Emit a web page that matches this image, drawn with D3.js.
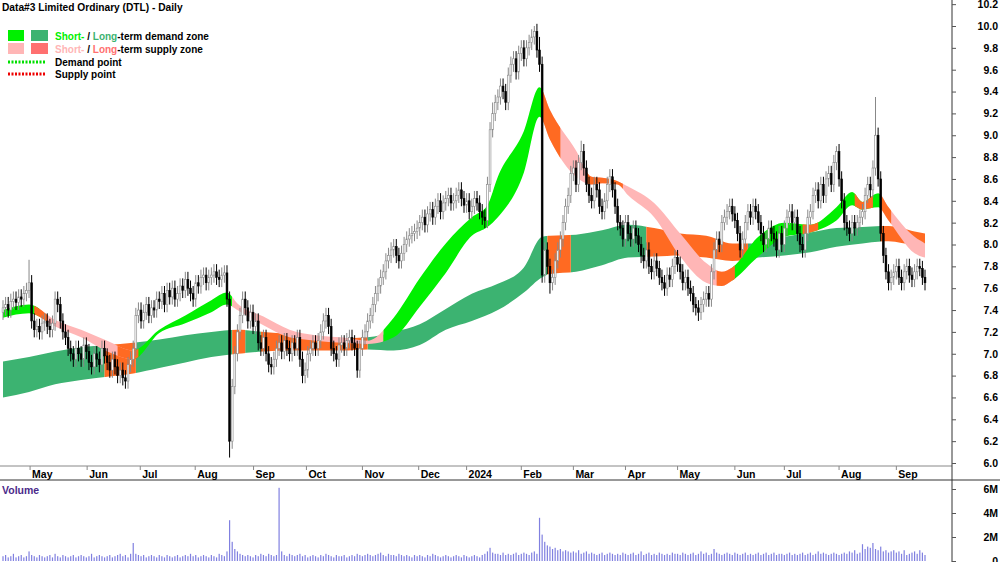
<!DOCTYPE html>
<html><head><meta charset="utf-8">
<script src="https://cdn.jsdelivr.net/npm/d3@7"></script>
<style>body{margin:0;background:#fff}svg{display:block;font-family:"Liberation Sans",Arial,sans-serif}</style>
</head><body><svg id="c" width="1000" height="562"></svg>
<script>
const closes = [
7.42,7.45,7.40,7.48,7.50,7.47,7.52,7.50,7.55,7.58,
7.65,7.30,7.22,7.25,7.20,7.28,7.30,7.25,7.22,7.28,
7.50,7.45,7.30,7.20,7.15,7.05,7.00,6.95,7.05,7.00,
6.95,7.08,7.02,6.92,6.88,7.00,6.95,6.90,7.05,6.98,
6.92,6.85,6.95,6.88,6.80,6.85,6.78,6.75,6.90,6.95,
7.05,7.35,7.40,7.30,7.38,7.45,7.35,7.42,7.40,7.50,
7.48,7.55,7.45,7.58,7.52,7.60,7.50,7.55,7.62,7.58,
7.68,7.60,7.55,7.50,7.65,7.62,7.70,7.72,7.65,7.70,
7.72,7.75,7.70,7.68,7.72,7.74,7.50,6.20,6.70,7.00,
7.20,7.35,7.50,7.42,7.30,7.38,7.25,7.30,7.10,7.05,
7.15,7.00,6.90,6.88,6.95,7.05,7.10,7.02,7.12,7.05,
7.00,7.10,7.05,7.15,6.95,6.80,6.85,7.00,7.05,7.10,
7.05,7.12,7.20,7.30,7.35,7.25,7.05,7.00,6.95,7.08,
7.10,7.05,7.12,7.15,7.10,7.05,6.85,7.05,7.15,7.20,
7.30,7.35,7.45,7.55,7.62,7.70,7.75,7.85,7.90,7.95,
7.98,7.90,7.85,7.92,8.00,8.05,8.08,8.10,8.12,8.15,
8.20,8.25,8.18,8.28,8.32,8.25,8.35,8.40,8.30,8.38,
8.42,8.45,8.38,8.40,8.45,8.50,8.42,8.36,8.40,8.30,
8.35,8.42,8.38,8.30,8.25,8.22,8.55,9.05,9.20,9.30,
9.35,9.45,9.40,9.30,9.55,9.65,9.70,9.58,9.75,9.80,
9.70,9.80,9.85,9.90,9.95,9.78,9.65,7.72,7.95,7.80,
7.65,7.70,7.85,7.95,8.05,8.20,8.35,8.45,8.65,8.70,
8.55,8.75,8.85,8.70,8.55,8.45,8.40,8.55,8.50,8.35,
8.30,8.40,8.55,8.62,8.50,8.35,8.20,8.15,8.05,8.20,
8.10,8.05,8.15,8.08,8.00,7.90,7.85,7.95,7.80,7.75,
7.85,7.78,7.70,7.65,7.60,7.72,7.68,7.80,7.88,7.82,
7.75,7.65,7.70,7.60,7.55,7.45,7.42,7.38,7.45,7.50,
7.55,7.50,7.75,7.95,8.05,8.00,8.20,8.25,8.30,8.35,
8.28,8.22,8.10,7.95,8.05,8.20,8.30,8.25,8.35,8.30,
8.20,8.10,8.00,8.05,8.15,8.10,8.05,7.95,8.10,8.00,
8.15,8.25,8.30,8.20,8.25,8.10,8.00,7.95,8.10,8.25,
8.30,8.45,8.50,8.40,8.55,8.45,8.60,8.65,8.55,8.75,
8.85,8.60,8.40,8.20,8.15,8.10,8.20,8.15,8.20,8.25,
8.30,8.45,8.55,8.50,8.70,9.00,8.60,8.10,7.90,7.75,
7.65,7.70,7.75,7.80,7.70,7.65,7.75,7.80,7.72,7.68,
7.75,7.80,7.78,7.70,7.65];
const firstOpen = 7.38;
const extremes = [{i:10,h:7.86},{i:87,l:6.05},{i:136,l:6.78},{i:204,h:10.0},{i:206,h:9.9},{i:210,l:7.55},{i:222,h:8.95},{i:267,l:7.3},{i:320,h:8.9},{i:335,h:9.35},{i:188,h:9.3}];
const volumes = [
.4,.5,.3,.4,.6,.3,.4,.5,.3,.4, .8,.5,.4,.3,.5,.4,.3,.4,.5,.3,
.6,.4,.3,.5,.4,.3,.4,.5,.3,.4, .5,.4,.3,.4,.6,.3,.4,.5,.4,.3,
.4,.5,.3,.4,.5,.6,.4,.5,.3,.6, 1.5,.6,.5,.4,.5,.3,.4,.5,.4,.3,
.5,.4,.3,.5,.4,.3,.4,.5,.3,.4, .5,.4,.6,.4,.5,.3,.4,.5,.4,.3,
.5,.4,.3,.6,.5,.4,.8,3.4,1.6,1.0, .8,.6,.5,.4,.5,.4,.3,.5,.4,.6,
.5,.4,.6,.5,.4,.5,6.1,.8,.5,.4, .6,.5,.4,.5,.6,.4,.5,.3,.4,.5,
.4,.3,.5,.4,.6,.5,.4,.3,.5,.4, .4,.5,.3,.4,.5,.4,.6,.5,.4,.5,
.6,.5,.4,.5,.6,.7,.5,.4,.6,.5, .5,.4,.6,.5,.4,.5,.4,.3,.5,.4,
.5,.4,.3,.5,.4,.6,.5,.4,.3,.4, .5,.4,.3,.4,.5,.4,.3,.5,.4,.3,
.4,.5,.4,.3,.5,.6,.8,1.1,.7,.6, .6,.5,.7,.5,.6,.5,.6,.7,.5,.6,
.7,.6,.5,.7,.8,.6,3.6,2.2,1.6,1.3, 1.2,1.0,1.1,.9,1.0,.8,.9,.8,.7,.8,
.7,.9,.6,.7,.8,.6,.7,.6,.5,.6, .7,.5,.6,.7,.6,.5,.6,.5,.7,.6,
.5,.6,.7,.5,.6,.8,.5,.6,.7,.5, .6,.5,.7,.6,.5,.6,.5,.7,.6,.6,
.5,.7,.6,.5,.6,.7,.5,.6,.8,.6, .7,.5,.6,1.0,.7,.6,.5,.6,.7,.6,
.5,.7,.6,.5,.6,.7,.5,.6,.5,.6, .7,.5,.6,.7,.5,.6,.7,.5,.6,.6,
.5,.6,.7,.5,.6,.5,.6,.7,.5,.6, .7,.5,.6,.8,.6,.7,.6,.5,.6,.7,
.6,.5,.6,.7,.6,.8,.7,.9,.6,.7, 1.4,1.0,1.2,1.1,1.5,1.0,.9,1.2,.8,.9,
.7,.8,.9,.7,.8,.6,.9,.5,.6,.7, .8,.6,.9,.7,.5];
const bandKnots = [0,10,20,30,40,50,60,70,80,90,100,110,120,130,140,150,160,170,180,190,200,207,210,220,230,240,250,260,270,280,290,300,310,320,330,340,350,354];
const longLo = [6.60,6.65,6.72,6.76,6.79,6.82,6.87,6.92,6.97,7.00,7.02,7.03,7.03,7.03,7.04,7.03,7.08,7.22,7.30,7.40,7.56,7.70,7.73,7.75,7.81,7.88,7.89,7.90,7.88,7.85,7.88,7.90,7.93,7.98,8.01,8.03,8.00,8.00];
const longHi = [6.93,6.97,7.02,7.06,7.08,7.10,7.13,7.17,7.20,7.22,7.20,7.18,7.15,7.14,7.15,7.20,7.27,7.41,7.55,7.64,7.79,8.07,8.08,8.09,8.13,8.18,8.15,8.10,8.08,8.01,8.01,8.07,8.11,8.15,8.16,8.17,8.12,8.10];
const shortKnots = [0,10,20,30,40,50,60,70,80,86,90,100,110,120,130,140,150,160,170,180,186,190,200,206,210,220,226,230,236,240,250,260,270,276,280,290,300,310,320,326,330,336,340,350,354];
const shortLo = [7.33,7.37,7.25,7.15,7.02,6.95,7.19,7.28,7.38,7.45,7.40,7.26,7.15,7.12,7.10,7.09,7.15,7.43,7.74,8.08,8.16,8.25,8.66,9.17,8.96,8.62,8.55,8.56,8.55,8.45,8.25,7.89,7.65,7.62,7.67,7.89,8.07,8.11,8.22,8.36,8.32,8.34,8.22,7.92,7.88];
const shortHi = [7.40,7.45,7.31,7.22,7.12,7.03,7.22,7.35,7.49,7.56,7.46,7.34,7.22,7.17,7.15,7.12,7.33,7.69,8.01,8.25,8.36,8.62,9.04,9.44,9.23,8.86,8.62,8.61,8.58,8.53,8.38,8.10,7.83,7.75,7.79,8.07,8.20,8.18,8.34,8.48,8.39,8.47,8.34,8.07,8.01];
const longSupplyRanges = [[39,51],[88,93],[99,140],[209,218],[247,286],[337,354]];
const shortSupplyRanges = [[14,50],[88,146],[207,280],[337,354]];
const shortOrangeRanges = [[12,17],[44,52],[207,214],[224,238],[274,281],[307,313],[327,334],[337,341]];
const priceTicks = [6.0,6.2,6.4,6.6,6.8,7.0,7.2,7.4,7.6,7.8,8.0,8.2,8.4,8.6,8.8,9.0,9.2,9.4,9.6,9.8,10.0,10.2];
const volTicks = [0,2,4,6];
const monthLabels = ["May","Jun","Jul","Aug","Sep","Oct","Nov","Dec","2024","Feb","Mar","Apr","May","Jun","Jul","Aug","Sep"];
const monthIdx = [10.4,32.3,52.7,73.8,96.2,116.5,138,159.6,178,199,219,239,259,281,300,321,343];

const svg = d3.select("#c");
const n = closes.length;
const x = d3.scaleLinear().domain([0,n-1]).range([3,925]);
const y = d3.scaleLinear().domain([6,10]).range([463,26]);
const yv = d3.scaleLinear().domain([0,6]).range([561,489]);
const C = {sd:"#00f000", ld:"#3cb371", ss:"#ffb6b6", ls:"#ff6a22", lsLeg:"#ff7070"};

const defs = svg.append("defs");
function clipFor(id, ranges, invert){
  const cp = defs.append("clipPath").attr("id",id);
  let rs = ranges;
  if(invert){ rs=[]; let s=0; ranges.forEach(r=>{ if(r[0]>s) rs.push([s,r[0]]); s=r[1]; }); if(s<n-1) rs.push([s,n-1]); }
  rs.forEach(r=>cp.append("rect").attr("x",x(r[0])).attr("y",0).attr("width",x(r[1])-x(r[0])).attr("height",470));
}
clipFor("lsup",longSupplyRanges,false); clipFor("ldem",longSupplyRanges,true);
clipFor("ssup",shortSupplyRanges,false); clipFor("sdem",shortSupplyRanges,true);
clipFor("sor",shortOrangeRanges,false);

const longData = bandKnots.map((k,j)=>({k,lo:longLo[j],hi:longHi[j]}));
const shortData = shortKnots.map((k,j)=>({k,lo:shortLo[j],hi:shortHi[j]}));
const area = d3.area().x(d=>x(d.k)).y0(d=>y(d.lo)).y1(d=>y(d.hi)).curve(d3.curveMonotoneX);
svg.append("path").attr("d",area(longData)).attr("fill",C.ld).attr("clip-path","url(#ldem)");
svg.append("path").attr("d",area(longData)).attr("fill",C.ls).attr("clip-path","url(#lsup)");
svg.append("path").attr("d",area(shortData)).attr("fill",C.sd).attr("clip-path","url(#sdem)");
svg.append("path").attr("d",area(shortData)).attr("fill",C.ss).attr("clip-path","url(#ssup)");
svg.append("path").attr("d",area(shortData)).attr("fill",C.ls).attr("clip-path","url(#sor)");

const candles = closes.map((c,i)=>{
  const o = i===0?firstOpen:closes[i-1];
  let h=Math.max(o,c)+0.07, l=Math.min(o,c)-0.07;
  extremes.forEach(e=>{ if(e.i===i){ if(e.h!==undefined) h=e.h; if(e.l!==undefined) l=e.l; }});
  return {i,o,c,h,l};
});
const cg = svg.append("g");
candles.forEach(d=>{
  const down = d.c<d.o, col = down?"#000":"#888";
  cg.append("line").attr("x1",x(d.i)).attr("x2",x(d.i)).attr("y1",y(d.h)).attr("y2",y(d.l)).attr("stroke",col).attr("stroke-width",1);
  const top=y(Math.max(d.o,d.c)), bot=y(Math.min(d.o,d.c));
  cg.append("rect").attr("x",x(d.i)-0.9).attr("y",top).attr("width",1.8).attr("height",Math.max(1,bot-top))
    .attr("fill",down?"#000":"#fff").attr("stroke",col).attr("stroke-width",0.6);
});

svg.append("g").selectAll("rect").data(volumes.slice(0,n)).join("rect")
  .attr("x",(v,i)=>x(i)-0.6).attr("width",1.2).attr("y",v=>yv(v)).attr("height",v=>yv(0)-yv(v)).attr("fill","#8080e0");

svg.append("line").attr("x1",0).attr("x2",952).attr("y1",466).attr("y2",466).attr("stroke","#888");
svg.append("line").attr("x1",0).attr("x2",1000).attr("y1",480).attr("y2",480).attr("stroke","#333");
svg.append("line").attr("x1",952).attr("x2",952).attr("y1",0).attr("y2",562).attr("stroke","#333");

function styleAxis(g){
  g.select(".domain").remove();
  g.selectAll("line").attr("stroke","#555");
  g.selectAll("text").attr("x",46).attr("text-anchor","end").attr("font-size",10.5).attr("font-weight","bold").attr("fill","#000").attr("font-family","Liberation Sans, Arial");
}
styleAxis(svg.append("g").attr("transform","translate(952,0)").call(d3.axisRight(y).tickValues(priceTicks).tickFormat(d3.format(".1f")).tickSize(4)));
styleAxis(svg.append("g").attr("transform","translate(952,0)").call(d3.axisRight(yv).tickValues(volTicks).tickFormat(d=>d===0?"0":d+"M").tickSize(4)));

const mg = svg.append("g");
monthIdx.forEach((m,j)=>{
  mg.append("line").attr("x1",x(m)).attr("x2",x(m)).attr("y1",466).attr("y2",470).attr("stroke","#888");
  mg.append("text").attr("x",x(m)+2).attr("y",478).attr("font-size",10.5).attr("font-weight","bold").text(monthLabels[j]);
});

svg.append("text").attr("x",2).attr("y",11).attr("font-size",10.2).attr("font-weight","bold").text("Data#3 Limited Ordinary (DTL) - Daily");
svg.append("rect").attr("x",8).attr("y",30).attr("width",16).attr("height",11).attr("fill",C.sd);
svg.append("rect").attr("x",31).attr("y",30).attr("width",17).attr("height",11).attr("fill",C.ld);
svg.append("rect").attr("x",8).attr("y",43).attr("width",16).attr("height",11).attr("fill",C.ss);
svg.append("rect").attr("x",31).attr("y",43).attr("width",17).attr("height",11).attr("fill",C.lsLeg);
const fs = 10;
const t1 = svg.append("text").attr("x",55).attr("y",40).attr("font-size",fs).attr("font-weight","bold");
t1.append("tspan").attr("fill",C.sd).text("Short-");
t1.append("tspan").text(" / ");
t1.append("tspan").attr("fill",C.ld).text("Long");
t1.append("tspan").text("-term demand zone");
const t2 = svg.append("text").attr("x",55).attr("y",53).attr("font-size",fs).attr("font-weight","bold");
t2.append("tspan").attr("fill",C.ss).text("Short-");
t2.append("tspan").text(" / ");
t2.append("tspan").attr("fill",C.lsLeg).text("Long");
t2.append("tspan").text("-term supply zone");
svg.append("line").attr("x1",8).attr("x2",45).attr("y1",62).attr("y2",62).attr("stroke","#00e000").attr("stroke-width",3).attr("stroke-dasharray","2,1.5");
svg.append("line").attr("x1",8).attr("x2",45).attr("y1",74).attr("y2",74).attr("stroke","#ee0000").attr("stroke-width",3).attr("stroke-dasharray","2,1.5");
svg.append("text").attr("x",55).attr("y",66).attr("font-size",fs).attr("font-weight","bold").text("Demand point");
svg.append("text").attr("x",55).attr("y",78).attr("font-size",fs).attr("font-weight","bold").text("Supply point");
svg.append("text").attr("x",2).attr("y",494).attr("font-size",10.5).attr("font-weight","bold").attr("fill","#4b2a8a").text("Volume");
</script></body></html>
